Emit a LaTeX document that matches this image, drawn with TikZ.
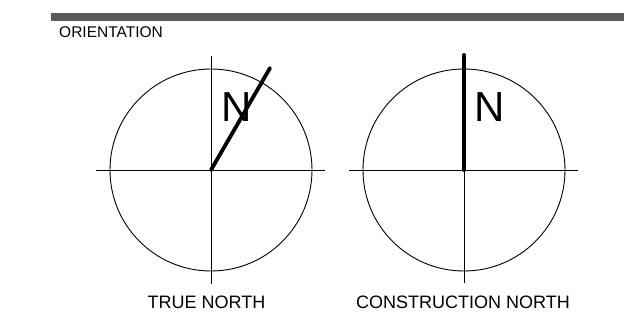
\documentclass[tikz,border=0pt]{standalone}
\usepackage{fontspec}
\setmainfont{Liberation Sans}
\definecolor{barcol}{HTML}{5A5A5A}
\tikzset{
  thinline/.style={line width=0.9pt, draw=black},
  heavyline/.style={line width=3.8pt, draw=black, line cap=round},
  ring/.style={circle, draw=black, line width=0.9pt, minimum size=202pt, inner sep=0pt},
  bigN/.style={anchor=base, inner sep=0pt, font=\fontsize{42}{48}\selectfont},
  caption/.style={anchor=base, inner sep=0pt, font=\fontsize{18}{21}\selectfont},
}
\begin{document}
\begin{tikzpicture}[x=1pt,y=-1pt]
\useasboundingbox (0,0) rectangle (624,323);
\fill[barcol] (51,13) rectangle (624,21);
\node[anchor=base west, inner sep=0pt, font=\fontsize{15.5}{18}\selectfont] (title) at (59,37.5) {ORIENTATION};
% left compass
\coordinate (c1) at (211,170);
\node[ring] (circ1) at (c1) {};
\coordinate (w1) at (96,170);
\coordinate (e1) at (325,170);
\coordinate (n1) at (211,56);
\coordinate (s1) at (211,284);
\coordinate (t1) at (270,68);
\draw[thinline] (w1) -- (e1);
\draw[thinline] (n1) -- (s1);
\node[bigN] (N1) at (237,121.7) {N};
\draw[heavyline] (c1) -- (t1);
\node[caption] (lab1) at (206.5,308) {TRUE NORTH};
% right compass
\coordinate (c2) at (464,170);
\node[ring] (circ2) at (c2) {};
\coordinate (w2) at (349,170);
\coordinate (e2) at (578,170);
\coordinate (s2) at (464,283);
\coordinate (t2) at (464,55);
\draw[thinline] (w2) -- (e2);
\draw[thinline] (c2) -- (s2);
\draw[heavyline] (c2) -- (t2);
\node[bigN] (N2) at (490,121.7) {N};
\node[caption] (lab2) at (463,308) {CONSTRUCTION NORTH};
\end{tikzpicture}
\end{document}
